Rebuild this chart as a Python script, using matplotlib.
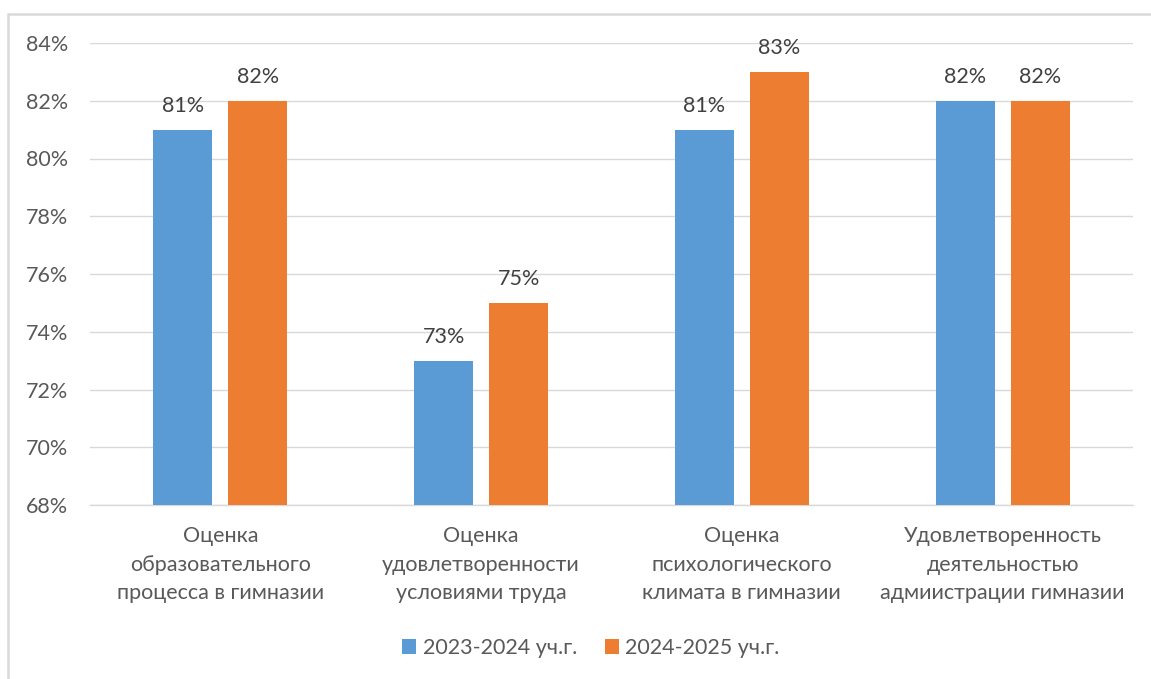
import matplotlib
matplotlib.use("Agg")
import matplotlib.pyplot as plt
from matplotlib.patches import Rectangle
import numpy as np

categories = [
    "Оценка\nобразовательного\nпроцесса в гимназии",
    "Оценка\nудовлетворенности\nусловиями труда",
    "Оценка\nпсихологического\nклимата в гимназии",
    "Удовлетворенность\nдеятельностью\nадмиистрации гимназии",
]
series_names = ["2023-2024 уч.г.", "2024-2025 уч.г."]
values_2023 = [81, 73, 81, 82]
values_2024 = [82, 75, 83, 82]
y_ticks = [68, 70, 72, 74, 76, 78, 80, 82, 84]

colors = ["#5B9BD5", "#ED7D31"]
text_color = "#595959"
grid_color = "#D9D9D9"

plt.rcParams['font.family'] = ['Lato', 'DejaVu Sans']

fig = plt.figure(figsize=(11.51, 6.79), dpi=100)
ax = fig.add_axes([90/1151, 1 - 505/679, (1133-90)/1151, (505-43)/679])

# outer chart frame
fig.patches.append(Rectangle((8/1151, -0.05), 1.2, 1 - 14/679 + 0.05,
                             transform=fig.transFigure, fill=False,
                             edgecolor="#D9D9D9", linewidth=1.8, zorder=0))

x = np.arange(len(categories))
w = 0.226
off = 0.1438
b1 = ax.bar(x - off, values_2023, w, color=colors[0], label=series_names[0], zorder=3)
b2 = ax.bar(x + off, values_2024, w, color=colors[1], label=series_names[1], zorder=3)

for bars, vals in ((b1, values_2023), (b2, values_2024)):
    for b, v in zip(bars, vals):
        ax.annotate(f"{v}%", (b.get_x() + b.get_width()/2, v),
                    xytext=(0, 10), textcoords="offset points",
                    ha="center", va="bottom", fontsize=15.5, color="#404040")

ax.set_xlim(-0.5, len(categories) - 0.5)
ax.set_ylim(68, 84)
ax.set_yticks(y_ticks)
ax.set_yticklabels([f"{t}%" for t in y_ticks])
ax.set_xticks(x)
ax.set_xticklabels(categories, fontsize=15.5, color=text_color, linespacing=1.55)
ax.tick_params(axis="y", length=0, pad=16, labelsize=15.5, labelcolor=text_color)
ax.tick_params(axis="x", length=0, pad=15)
ax.grid(axis="y", color=grid_color, linewidth=1, zorder=0)
for s in ["top", "right", "left"]:
    ax.spines[s].set_visible(False)
ax.spines["bottom"].set_color(grid_color)
ax.spines["bottom"].set_linewidth(1)

fig.legend(handles=[b1, b2], labels=series_names, loc="center",
           bbox_to_anchor=(591/1151, 1 - 648/679), ncol=2, frameon=False,
           fontsize=15.5, labelcolor=text_color, handlelength=0.65, handleheight=0.65,
           handletextpad=0.3, columnspacing=1.3)

fig.savefig("out.png", dpi=100)
